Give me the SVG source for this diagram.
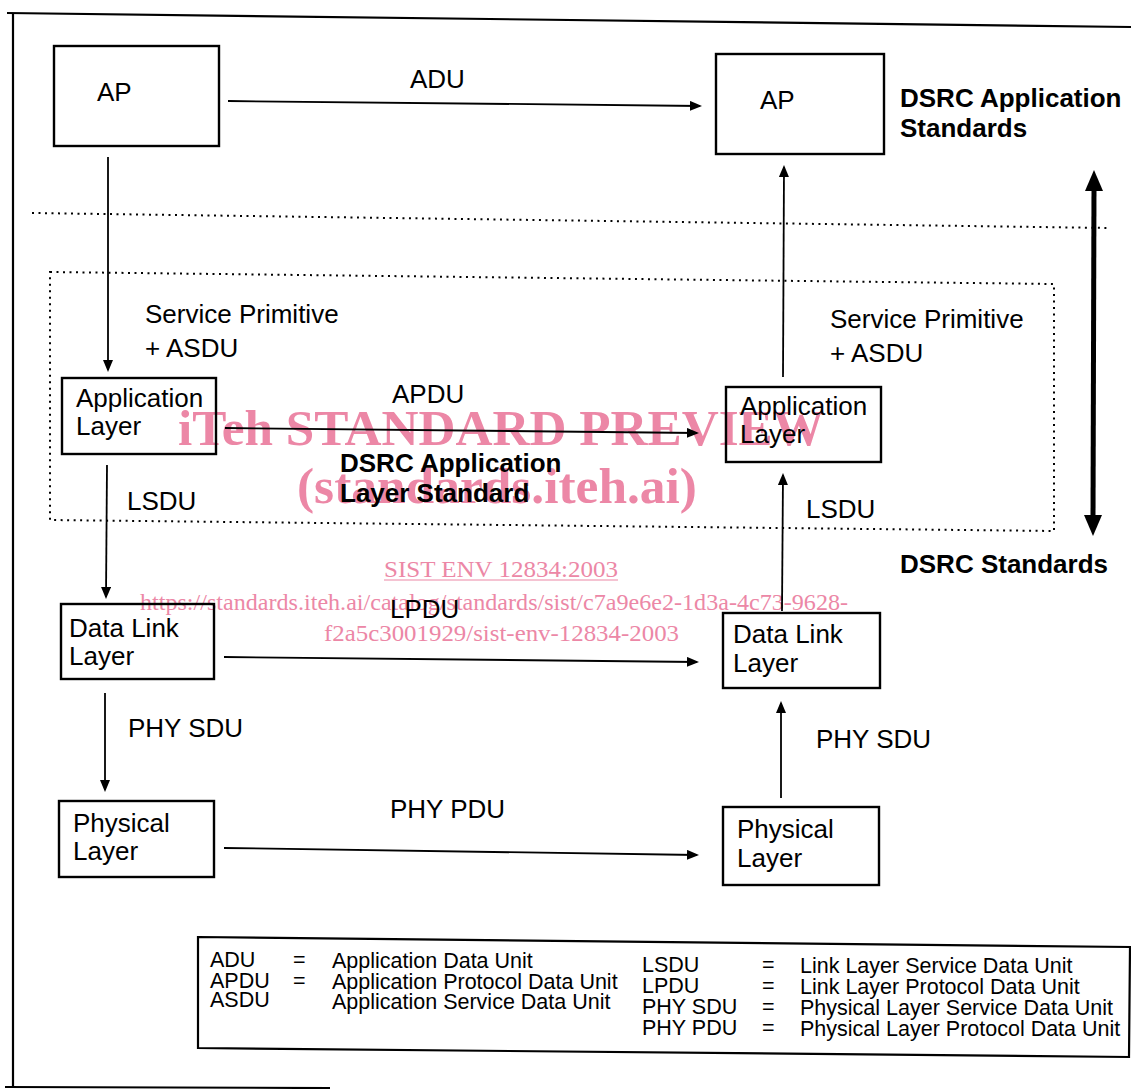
<svg xmlns="http://www.w3.org/2000/svg" width="1131" height="1089" viewBox="0 0 1131 1089">
<defs>
<style>
.box{fill:#fff;stroke:#000;stroke-width:2.4}
.lbl{font-family:"Liberation Sans",Arial,sans-serif;font-size:26px;fill:#000}
.bold{font-family:"Liberation Sans",Arial,sans-serif;font-size:26px;font-weight:bold;fill:#000}
.leg{font-family:"Liberation Sans",Arial,sans-serif;font-size:21.5px;fill:#000}
.conn{fill:none;stroke:#000;stroke-width:1.8;marker-end:url(#ah)}
.dot{fill:none;stroke:#000;stroke-width:2;stroke-dasharray:2 4.5}
.frame{fill:none;stroke:#000;stroke-width:2.2}
.wm{font-family:"Liberation Serif","Times New Roman",serif;fill:#ec87a6}
</style>
<marker id="ah" markerWidth="12" markerHeight="10" refX="10" refY="5" orient="auto" markerUnits="userSpaceOnUse">
<path d="M0,0 L12,5 L0,10 z" fill="#000"/>
</marker>
</defs>

<g id="frame">
<path class="frame" d="M7,13 L1131,27"/>
<path class="frame" d="M13,13 L13,1087"/>
<path class="frame" d="M5,1087 L330,1088"/>
<path class="dot" d="M32,213 L1110,228"/>
<path class="dot" d="M50,272 L1054,284 L1054,531 L50,520 Z"/>
</g>

<g id="watermark">
<text class="wm" x="178" y="445" font-size="50" font-weight="bold" textLength="646" lengthAdjust="spacingAndGlyphs">iTeh STANDARD PREVIEW</text>
<text class="wm" x="297" y="503" font-size="50" font-weight="bold" textLength="400" lengthAdjust="spacingAndGlyphs">(standards.iteh.ai)</text>
<text class="wm" x="384" y="577" font-size="24" textLength="234" lengthAdjust="spacingAndGlyphs">SIST ENV 12834:2003</text>
<line x1="384" y1="580" x2="618" y2="580" stroke="#ec87a6" stroke-width="1.2"/>
<text class="wm" x="140" y="610" font-size="24" textLength="708" lengthAdjust="spacingAndGlyphs">https://standards.iteh.ai/catalog/standards/sist/c7a9e6e2-1d3a-4c73-9628-</text>
<text class="wm" x="324" y="641" font-size="24" textLength="355" lengthAdjust="spacingAndGlyphs">f2a5c3001929/sist-env-12834-2003</text>
</g>

<g id="connectors">
<path class="conn" d="M228,101 L700,106"/>
<path class="conn" d="M108,157 L108,370"/>
<path class="conn" d="M783,377 L784,167"/>
<path class="conn" d="M225,428 L697,433"/>
<path class="conn" d="M107,465 L106,597"/>
<path class="conn" d="M782,611 L783,475"/>
<path class="conn" d="M224,657 L697,662"/>
<path class="conn" d="M105,693 L105,790"/>
<path class="conn" d="M781,798 L781,703"/>
<path class="conn" d="M224,848 L697,855"/>
<line x1="1094" y1="186" x2="1093" y2="520" stroke="#000" stroke-width="5"/>
<polygon points="1094,170 1085,191 1103,191" fill="#000"/>
<polygon points="1093,536 1084,515 1102,515" fill="#000"/>
</g>

<g id="labels">
<text class="lbl" x="410" y="88">ADU</text>
<text class="lbl" x="145" y="323">Service Primitive</text>
<text class="lbl" x="145" y="357">+ ASDU</text>
<text class="lbl" x="830" y="328">Service Primitive</text>
<text class="lbl" x="830" y="362">+ ASDU</text>
<text class="lbl" x="392" y="403">APDU</text>
<text class="bold" x="340" y="472">DSRC Application</text>
<text class="bold" x="340" y="502">Layer Standard</text>
<text class="lbl" x="127" y="510">LSDU</text>
<text class="lbl" x="806" y="518">LSDU</text>
<text class="lbl" x="390" y="618">LPDU</text>
<text class="lbl" x="128" y="737">PHY SDU</text>
<text class="lbl" x="816" y="748">PHY SDU</text>
<text class="lbl" x="390" y="818">PHY PDU</text>
<text class="bold" x="900" y="107">DSRC Application</text>
<text class="bold" x="900" y="137">Standards</text>
<text class="bold" x="900" y="573">DSRC Standards</text>
</g>

<g id="ap-left">
<rect class="box" x="54" y="46" width="165" height="100"/>
<text class="lbl" x="97" y="101">AP</text>
</g>
<g id="ap-right">
<rect class="box" x="716" y="54" width="168" height="100"/>
<text class="lbl" x="760" y="109">AP</text>
</g>
<g id="app-left">
<rect class="box" x="62" y="378" width="154" height="76" fill-opacity="0"/>
<text class="lbl" x="76" y="407">Application</text>
<text class="lbl" x="76" y="435">Layer</text>
</g>
<g id="app-right">
<rect class="box" x="726" y="387" width="155" height="75" fill-opacity="0"/>
<text class="lbl" x="740" y="415">Application</text>
<text class="lbl" x="740" y="443">Layer</text>
</g>
<g id="dl-left">
<rect class="box" x="61" y="604" width="153" height="75" fill-opacity="0"/>
<text class="lbl" x="69" y="637">Data Link</text>
<text class="lbl" x="69" y="665">Layer</text>
</g>
<g id="dl-right">
<rect class="box" x="723" y="613" width="157" height="75" fill-opacity="0"/>
<text class="lbl" x="733" y="643">Data Link</text>
<text class="lbl" x="733" y="672">Layer</text>
</g>
<g id="phy-left">
<rect class="box" x="59" y="801" width="155" height="76"/>
<text class="lbl" x="73" y="832">Physical</text>
<text class="lbl" x="73" y="860">Layer</text>
</g>
<g id="phy-right">
<rect class="box" x="723" y="807" width="156" height="78"/>
<text class="lbl" x="737" y="838">Physical</text>
<text class="lbl" x="737" y="867">Layer</text>
</g>

<g id="legend">
<path class="frame" d="M198,937 L1130,947 L1129,1057 L198,1048 Z" fill="#fff" stroke-width="2.6"/>
<text class="leg" x="210" y="967">ADU</text>
<text class="leg" x="293" y="967">=</text>
<text class="leg" x="332" y="968">Application Data Unit</text>
<text class="leg" x="210" y="988">APDU</text>
<text class="leg" x="293" y="988">=</text>
<text class="leg" x="332" y="989">Application Protocol Data Unit</text>
<text class="leg" x="210" y="1007">ASDU</text>
<text class="leg" x="332" y="1009">Application Service Data Unit</text>
<text class="leg" x="642" y="972">LSDU</text>
<text class="leg" x="762" y="972">=</text>
<text class="leg" x="800" y="973">Link Layer Service Data Unit</text>
<text class="leg" x="642" y="993">LPDU</text>
<text class="leg" x="762" y="993">=</text>
<text class="leg" x="800" y="994">Link Layer Protocol Data Unit</text>
<text class="leg" x="642" y="1014">PHY SDU</text>
<text class="leg" x="762" y="1014">=</text>
<text class="leg" x="800" y="1015">Physical Layer Service Data Unit</text>
<text class="leg" x="642" y="1035">PHY PDU</text>
<text class="leg" x="762" y="1035">=</text>
<text class="leg" x="800" y="1036">Physical Layer Protocol Data Unit</text>
</g>
</svg>
